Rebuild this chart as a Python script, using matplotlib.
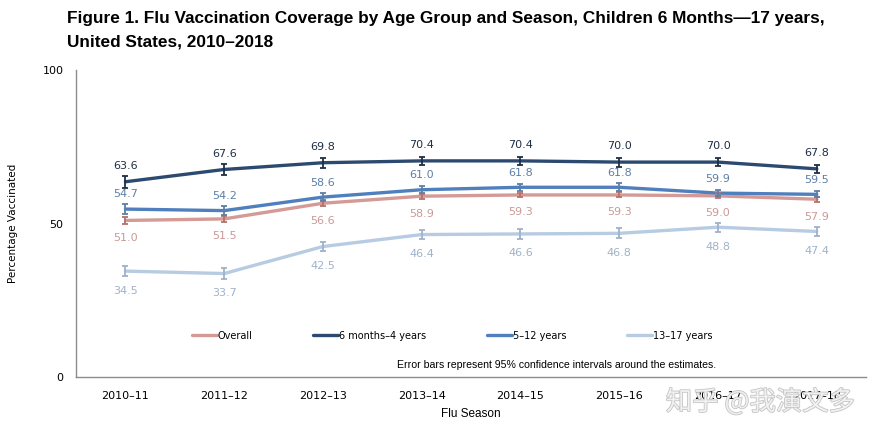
import matplotlib
matplotlib.use("Agg")
import matplotlib.pyplot as plt
import matplotlib.patheffects as pe
import numpy as np

seasons = ["2010–11", "2011–12", "2012–13", "2013–14", "2014–15", "2015–16", "2016–17", "2017–18"]

overall = [51.0, 51.5, 56.6, 58.9, 59.3, 59.3, 59.0, 57.9]
months6_4 = [63.6, 67.6, 69.8, 70.4, 70.4, 70.0, 70.0, 67.8]
years5_12 = [54.7, 54.2, 58.6, 61.0, 61.8, 61.8, 59.9, 59.5]
years13_17 = [34.5, 33.7, 42.5, 46.4, 46.6, 46.8, 48.8, 47.4]

# half-widths of the 95% CI
err_overall = [1.1, 1.0, 0.9, 0.8, 0.7, 0.8, 0.8, 0.8]
err_6m = [2.0, 1.7, 1.6, 1.4, 1.4, 1.5, 1.4, 1.3]
err_5_12 = [1.6, 1.5, 1.3, 1.2, 1.2, 1.3, 1.0, 1.0]
err_13_17 = [1.6, 1.7, 1.6, 1.6, 1.6, 1.6, 1.5, 1.4]

series = [
    ("Overall", overall, err_overall, "#d39a96", "#c99a97", -12.5),
    ("6 months–4 years", months6_4, err_6m, "#2c4a6f", "#1f2f45", 11.5),
    ("5–12 years", years5_12, err_5_12, "#4f7fbc", "#5e7fa6", 10.5),
    ("13–17 years", years13_17, err_13_17, "#b7cbe2", "#9fb2c8", -14),
]

narrow = ["Liberation Sans Narrow", "Liberation Sans", "DejaVu Sans"]

fig = plt.figure(figsize=(8.76, 4.37), dpi=100)
ax = fig.add_axes([0.0868, 0.1373, 0.902, 0.7025])

x = np.arange(len(seasons))
for name, vals, errs, col, lab_col, off in series:
    ax.plot(x, vals, color=col, lw=2.4, label=name, zorder=2, solid_capstyle="round")
    ecol = lab_col if name != "Overall" else "#b5716c"
    ax.errorbar(x, vals, yerr=errs, fmt="none", ecolor=ecol, elinewidth=1.3,
                capsize=2.5, capthick=1.3, zorder=3)
    for xi, v in zip(x, vals):
        ax.annotate(f"{v:.1f}", (xi, v), xytext=(0, off), textcoords="offset points",
                    ha="center", va="center", fontsize=8, color=lab_col)

ax.set_xlim(-0.5, 7.5)
ax.set_ylim(0, 100)
ax.set_yticks([0, 50, 100])
ax.set_xticks(x)
ax.set_xticklabels(seasons)
ax.tick_params(axis="both", length=0, labelsize=8, colors="black")
ax.tick_params(axis="y", pad=9)
ax.tick_params(axis="x", pad=10)
for s in ["top", "right"]:
    ax.spines[s].set_visible(False)
for s in ["left", "bottom"]:
    ax.spines[s].set_color("#8c8c8c")
    ax.spines[s].set_linewidth(1.0)

ax.set_ylabel("Percentage Vaccinated", fontsize=7.5, labelpad=18)
ax.set_xlabel("Flu Season", fontsize=8.5, family=narrow, labelpad=5)

leg = ax.legend(loc="center", bbox_to_anchor=(0.476, 0.134), ncol=4, frameon=False,
                fontsize=7, handlelength=2.6, handletextpad=0.1, columnspacing=6.2)

ax.text(0.608, 0.04, "Error bars represent 95% confidence intervals around the estimates.",
        transform=ax.transAxes, ha="center", va="center", fontsize=7.6, family=narrow)

fig.text(0.0765, 0.958, "Figure 1. Flu Vaccination Coverage by Age Group and Season, Children 6 Months—17 years,",
         fontsize=12.4, fontweight="bold", family=narrow, ha="left", va="center")
fig.text(0.0765, 0.904, "United States, 2010–2018",
         fontsize=12.4, fontweight="bold", family=narrow, ha="left", va="center")

# site watermark
fig.text(0.868, 0.08, "知乎 @我演文多", fontsize=19, color="#f6f6f6", alpha=0.85,
         family=["Noto Sans CJK SC", "DejaVu Sans"], ha="center", va="center",
         path_effects=[pe.withStroke(linewidth=1.1, foreground="#b8b8b8")])

fig.savefig("out.png", dpi=100)
